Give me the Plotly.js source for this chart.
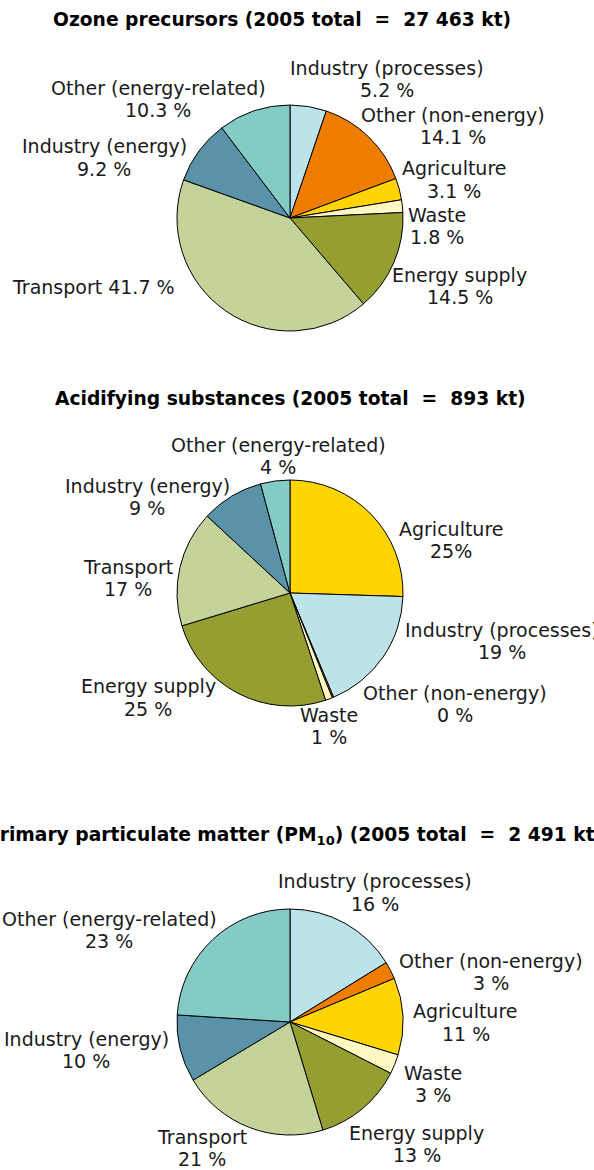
<!DOCTYPE html>
<html>
<head>
<meta charset="utf-8">
<script src="https://cdn.plot.ly/plotly-3.0.1.min.js"></script>
<style>
  html, body { margin: 0; padding: 0; background: #ffffff; }
  #chart { width: 594px; height: 1170px; }
</style>
</head>
<body>
<div id="chart"></div>
<script>
// ---------------- DATA ----------------
const CATEGORIES = ["Industry (processes)", "Other (non-energy)", "Agriculture", "Waste",
                    "Energy supply", "Transport", "Industry (energy)", "Other (energy-related)"];

// Ozone precursors (2005 total = 27 463 kt)
const OZONE_TITLE = "Ozone precursors (2005 total\u00a0 =\u00a0 27 463 kt)";
const OZONE_VALUES = [5.2, 14.1, 3.1, 1.8, 14.5, 41.7, 9.2, 10.3];
const OZONE_PCT = ["5.2 %", "14.1 %", "3.1 %", "1.8 %", "14.5 %", "41.7 %", "9.2 %", "10.3 %"];

// Acidifying substances (2005 total = 893 kt)
const ACID_TITLE = "Acidifying substances (2005 total\u00a0 =\u00a0 893 kt)";
const ACID_CATEGORIES = ["Agriculture", "Industry (processes)", "Other (non-energy)", "Waste",
                         "Energy supply", "Transport", "Industry (energy)", "Other (energy-related)"];
const ACID_VALUES = [25.5, 18.2, 0.2, 1.0, 25.4, 16.6, 8.9, 4.2];
const ACID_PCT = ["25%", "19 %", "0 %", "1 %", "25 %", "17 %", "9 %", "4 %"];

// Primary particulate matter (PM10) (2005 total = 2 491 kt)
const PM_TITLE = "Primary particulate matter (PM<sub>10</sub>) (2005 total\u00a0 =\u00a0 2 491 kt)";
const PM_VALUES = [16.2, 2.5, 11.0, 2.8, 12.8, 21.1, 9.6, 24.0];
const PM_PCT = ["16 %", "3 %", "11 %", "3 %", "13 %", "21 %", "10 %", "23 %"];

// ---------------- STYLE ----------------
const COLOR_BY_CATEGORY = {
  "Industry (processes)": "#bde3ea",
  "Other (non-energy)": "#ef7d00",
  "Agriculture": "#ffd400",
  "Waste": "#fff8c2",
  "Energy supply": "#959e30",
  "Transport": "#c3d39a",
  "Industry (energy)": "#5a93a9",
  "Other (energy-related)": "#84cbc6"
};

const W = 594, H = 1170;
const FONT = "DejaVu Sans, Verdana, sans-serif";
const LABEL_SIZE = 19;
const TITLE_SIZE = 18.7;
const LINE_GAP = 22.3;
const R = 113;

// layout: pie centres (px), title positions (px), label block centres (px)
const PIES = [
  { cats: CATEGORIES, values: OZONE_VALUES, pct: OZONE_PCT, title: OZONE_TITLE,
    cx: 290, cy: 218, tx: 282, ty: 19,
    pos: [[387, 79], [453, 126], [454, 179.5], [437, 226], [459.5, 286], [93.3, 287, true], [104, 157.5], [158, 98.7]] },
  { cats: ACID_CATEGORIES, values: ACID_VALUES, pct: ACID_PCT, title: ACID_TITLE,
    cx: 290, cy: 593, tx: 290, ty: 398,
    pos: [[451, 540], [502.5, 641], [455, 704], [329, 726], [148, 697.5], [128, 578], [147, 497], [278, 456]] },
  { cats: CATEGORIES, values: PM_VALUES, pct: PM_PCT, title: PM_TITLE,
    cx: 290, cy: 1022, tx: 294, ty: 836,
    pos: [[375, 892.5], [491, 971.7], [465.5, 1022.5], [433, 1084], [416.7, 1144], [201.7, 1148], [86.3, 1049.7], [109, 929.7]] }
];

const px2x = (x) => x / W;
const px2y = (y) => 1 - y / H;

const traces = [];
const annotations = [];

PIES.forEach((p) => {
  traces.push({
    type: "pie",
    labels: p.cats,
    values: p.values,
    sort: false,
    direction: "clockwise",
    rotation: 0,
    textinfo: "none",
    hoverinfo: "label+percent",
    showlegend: false,
    marker: {
      colors: p.cats.map((c) => COLOR_BY_CATEGORY[c]),
      line: { color: "#000000", width: 1 }
    },
    domain: {
      x: [px2x(p.cx - R), px2x(p.cx + R)],
      y: [px2y(p.cy + R), px2y(p.cy - R)]
    }
  });

  annotations.push({
    xref: "paper", yref: "paper",
    x: px2x(p.tx), y: px2y(p.ty),
    xanchor: "center", yanchor: "middle",
    showarrow: false,
    text: "<b>" + p.title + "</b>",
    font: { family: FONT, size: TITLE_SIZE, color: "#000000" }
  });

  p.cats.forEach((c, i) => {
    const [lx, ly, oneLine] = p.pos[i];
    const lines = oneLine ? [c + " " + p.pct[i]] : [c, p.pct[i]];
    const y0 = ly - (lines.length - 1) * LINE_GAP / 2;
    lines.forEach((t, k) => {
      annotations.push({
        xref: "paper", yref: "paper",
        x: px2x(lx), y: px2y(y0 + k * LINE_GAP),
        xanchor: "center", yanchor: "middle",
        showarrow: false,
        text: t,
        font: { family: FONT, size: LABEL_SIZE, color: "#1a1a1a" }
      });
    });
  });
});

const layout = {
  width: W, height: H,
  margin: { l: 0, r: 0, t: 0, b: 0, pad: 0 },
  paper_bgcolor: "#ffffff",
  plot_bgcolor: "#ffffff",
  font: { family: FONT },
  annotations: annotations
};

Plotly.newPlot("chart", traces, layout, { displayModeBar: false, staticPlot: true });
</script>
</body>
</html>
